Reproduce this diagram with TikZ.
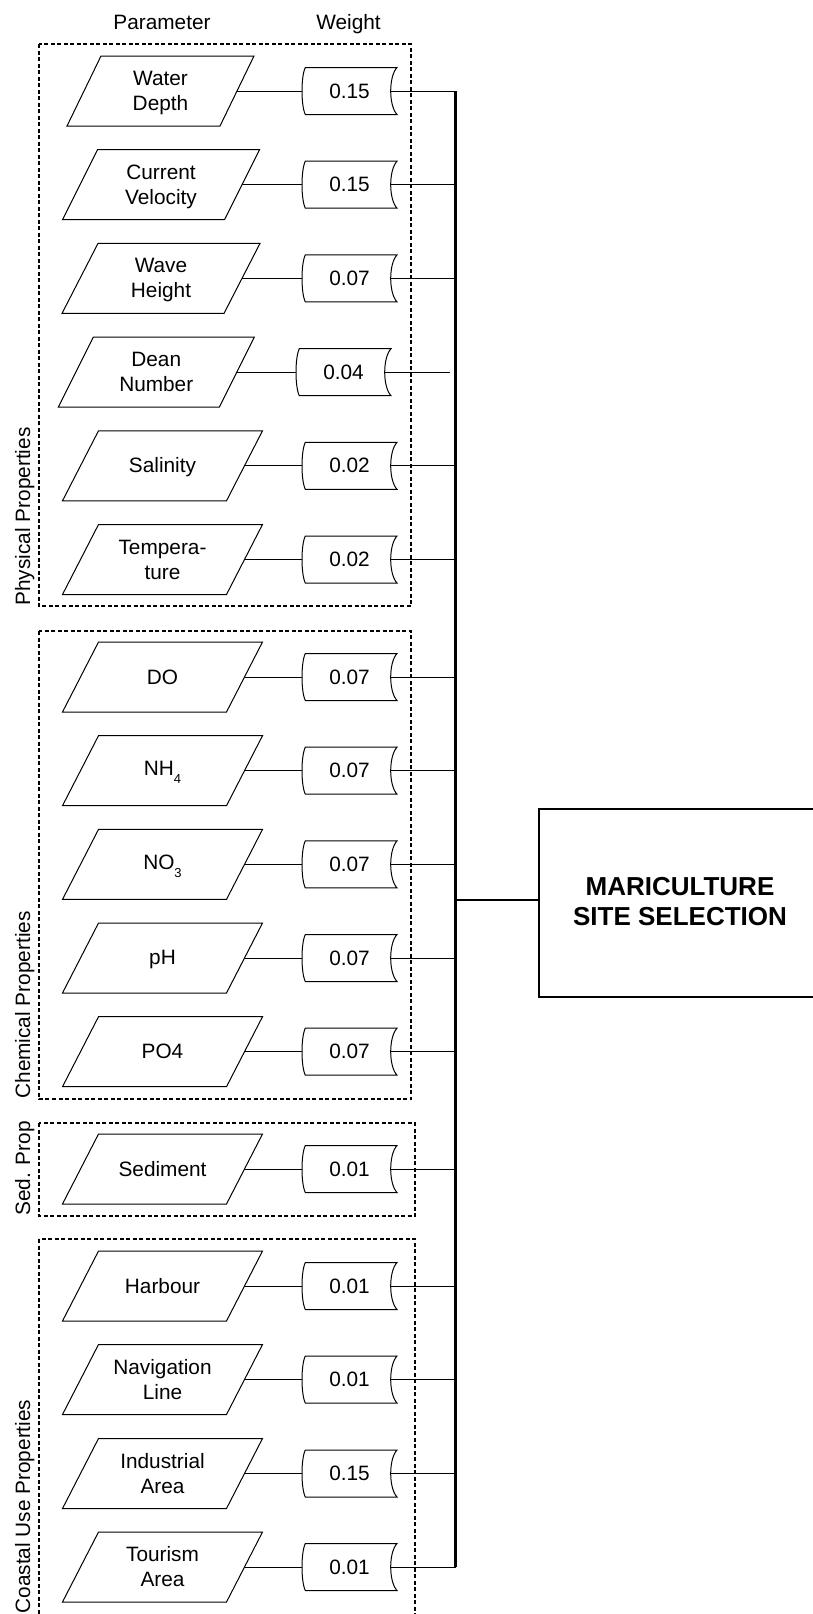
\documentclass[tikz,border=0pt]{standalone}
\usepackage{fontspec}
\setmainfont{Liberation Sans}
\usetikzlibrary{calc}
\newcommand\myStrut{\rule[-4pt]{0pt}{22pt}}
\newcommand\myStrutB{\rule[-6pt]{0pt}{26pt}}
\newcommand\mySub[1]{\raisebox{-8pt}{\fontsize{13}{13}\selectfont #1}}
% parameter parallelogram: name, cx, cy, top width, slant, text
\newcommand\myParam[6]{%
  \node[ptext, minimum width=#4] (#1) at (#2,#3) {#6};
  \draw[pline] ($(#1.north west)+(#5/2,0)$) -- ($(#1.north east)+(#5/2,0)$)
    -- ($(#1.south east)-(#5/2,0)$) -- ($(#1.south west)-(#5/2,0)$) -- cycle;
}
% weight (stored data) box: name, cx, cy, text
\newcommand\myWeight[4]{%
  \node[wtext] (#1) at (#2,#3) {\myStrut #4};
  \draw[pline] ($(#1.north west)+(3.3,0)$) -- (#1.north east)
    .. controls ($(#1.north east)+(-8.4,9)$) and ($(#1.south east)+(-8.4,-9)$) .. (#1.south east)
    -- ($(#1.south west)+(3.3,0)$)
    .. controls ($(#1.south west)+(-1.1,-9)$) and ($(#1.north west)+(-1.1,9)$) .. ($(#1.north west)+(3.3,0)$) -- cycle;
  \coordinate (#1r) at ($(#1.east)+(-6.3,0)$);
}
\tikzset{
  ptext/.style={rectangle, inner sep=0pt, outer sep=0pt, minimum height=70pt, align=center},
  wtext/.style={rectangle, inner sep=0pt, outer sep=0pt, minimum width=95pt, minimum height=47pt},
  pline/.style={line width=1pt, line join=miter},
  conn/.style={line width=1pt},
  dbox/.style={line width=1.2pt, dash pattern=on 4pt off 2.5pt},
  busline/.style={line width=3pt},
  mainbox/.style={draw, line width=2pt, minimum width=282pt, minimum height=188pt, align=center,
    inner sep=0pt, font=\bfseries\fontsize{26}{30}\selectfont},
  grp/.style={rotate=90, anchor=base west, inner sep=0pt},
  head/.style={anchor=base, inner sep=0pt}
}
\begin{document}
\begin{tikzpicture}[x=1pt, y=-1pt, font=\fontsize{20.8}{25}\selectfont, line width=1pt]
\useasboundingbox (0,0) rectangle (813,1614);
\clip (0,0) rectangle (813,1614);

% headers
\node[head] (hp) at (162,29) {Parameter};
\node[head] (hw) at (348.5,29) {Weight};

% group boxes
\draw[dbox] (39,44) rectangle (411,606);
\draw[dbox] (39,631) rectangle (411,1099);
\draw[dbox] (39,1123) rectangle (415,1216);
\draw[dbox] (39,1239) rectangle (415,1630);

% group labels
\node[grp] (g1) at (30,606) {Physical Properties};
\node[grp] (g2) at (30,1099) {Chemical Properties};
\node[grp] (g3) at (30,1216) {Sed. Prop};
\node[grp] (g4) at (30,1614) {Coastal Use Properties};

% parameters
\myParam{p1}{160.5}{91}{153}{34}{\myStrut Water\\\myStrut Depth}
\myParam{p2}{161}{184.7}{162}{35}{\myStrut Current\\\myStrut Velocity}
\myParam{p3}{161}{278.4}{162}{36}{\myStrut Wave\\\myStrut Height}
\myParam{p4}{156.25}{372.2}{161}{35}{\myStrut Dean\\\myStrut Number}
\myParam{p5}{162.5}{465.8}{164}{36}{\myStrut Salinity}
\myParam{p6}{162.5}{559.5}{164}{36}{\myStrut Tempera-\\\myStrut ture}
\myParam{p7}{162.5}{677}{164}{36}{\myStrut DO}
\myParam{p8}{162.5}{770.7}{164}{36}{\myStrut NH\mySub{4}}
\myParam{p9}{162.5}{864.4}{164}{36}{\myStrut NO\mySub{3}}
\myParam{p10}{162.5}{958}{164}{36}{\myStrut pH}
\myParam{p11}{162.5}{1051.7}{164}{36}{\myStrut PO4}
\myParam{p12}{162.5}{1169}{164}{36}{\myStrut Sediment}
\myParam{p13}{162.5}{1286}{164}{36}{\myStrut Harbour}
\myParam{p14}{162.5}{1379.5}{164}{36}{\myStrut Navigation\\\myStrut Line}
\myParam{p15}{162.5}{1473.5}{164}{36}{\myStrut Industrial\\\myStrut Area}
\myParam{p16}{162.5}{1567}{164}{36}{\myStrut Tourism\\\myStrut Area}

% weights
\myWeight{w1}{349.5}{91}{0.15}
\myWeight{w2}{349.5}{184.7}{0.15}
\myWeight{w3}{349.5}{278.4}{0.07}
\myWeight{w4}{343.5}{372.2}{0.04}
\myWeight{w5}{349.5}{465.8}{0.02}
\myWeight{w6}{349.5}{559.5}{0.02}
\myWeight{w7}{349.5}{677}{0.07}
\myWeight{w8}{349.5}{770.7}{0.07}
\myWeight{w9}{349.5}{864.4}{0.07}
\myWeight{w10}{349.5}{958}{0.07}
\myWeight{w11}{349.5}{1051.7}{0.07}
\myWeight{w12}{349.5}{1169}{0.01}
\myWeight{w13}{349.5}{1286}{0.01}
\myWeight{w14}{349.5}{1379.5}{0.01}
\myWeight{w15}{349.5}{1473.5}{0.15}
\myWeight{w16}{349.5}{1567}{0.01}

% bus
\coordinate (bustop) at (455.5,91);
\coordinate (busbot) at (455.5,1567);
\draw[busline] (bustop) -- (busbot);

% connectors parameter -> weight
\foreach \i in {1,...,16} { \draw[conn] (p\i.east) -- (w\i.west); }
% connectors weight -> bus
\foreach \i in {1,2,3,5,6,7,8,9,10,11,12,13,14,15,16} { \draw[conn] (w\i r) -- (w\i r -| bustop); }
\coordinate (deanend) at (450,372.2);
\draw[conn] (w4r) -- (deanend);

% main box
\node[mainbox] (main) at (680,903) {\myStrutB MARICULTURE\\\myStrutB SITE SELECTION};
\coordinate (mainin) at ($(main.west)+(0,-3)$);
\draw[line width=2pt] (mainin -| bustop) -- (mainin);
\end{tikzpicture}
\end{document}
